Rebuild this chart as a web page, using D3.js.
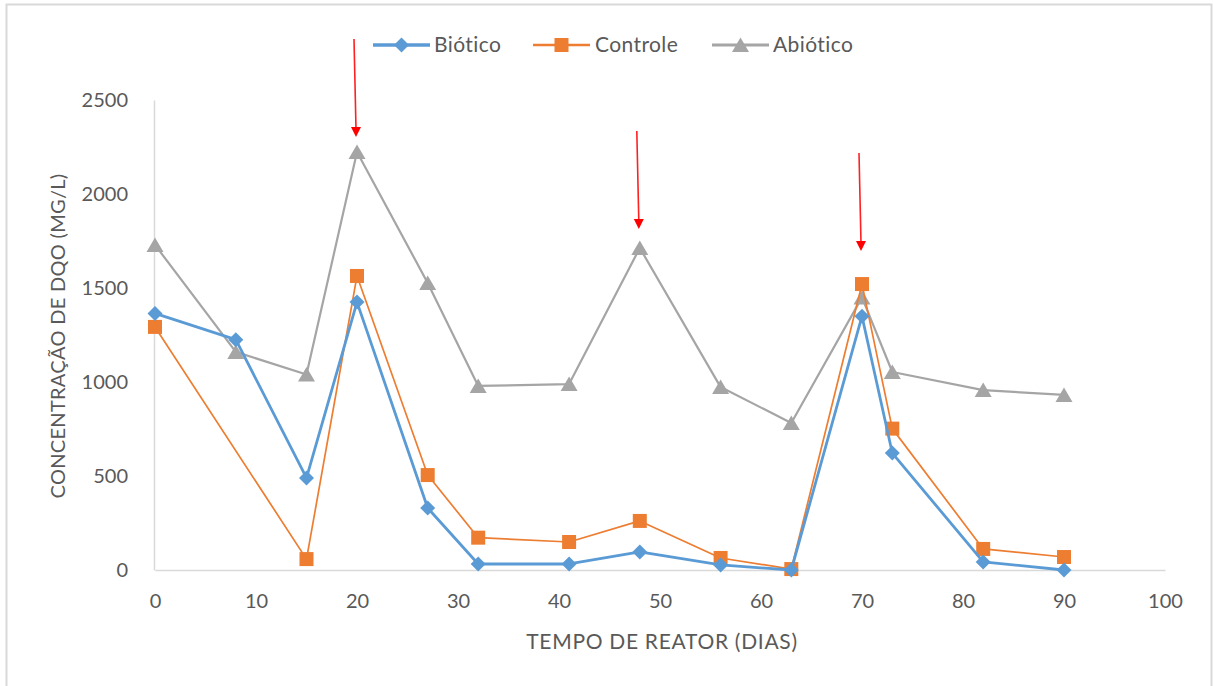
<!DOCTYPE html>
<html>
<head>
<meta charset="utf-8">
<script src="https://cdn.jsdelivr.net/npm/d3@7"></script>
<style>
  html, body { margin: 0; padding: 0; background: #ffffff; }
  svg { display: block; }
  text { font-family: Lato, "Open Sans", sans-serif; fill: #595959; }
</style>
</head>
<body>
<svg id="chart" width="1213" height="686"></svg>
<script>
// Reactor time (days) and COD concentration (mg/L) for each reactor
const biotDays = [0, 8, 15, 20, 27, 32, 41, 48, 56, 63, 70, 73, 82, 90];
const biotValues = [1365, 1225, 490, 1425, 330, 32, 32, 96, 27, 0, 1350, 622, 43, 0];

const ctrlDays = [0, 15, 20, 27, 32, 41, 48, 56, 63, 70, 73, 82, 90];
const ctrlValues = [1293, 58, 1564, 505, 172, 149, 261, 64, 5, 1521, 752, 112, 69];

const abioDays = [0, 8, 15, 20, 27, 32, 41, 48, 56, 63, 70, 73, 82, 90];
const abioValues = [1729, 1160, 1040, 2223, 1527, 979, 989, 1713, 973, 782, 1450, 1053, 957, 931];

const seriesNames = ["Biótico", "Controle", "Abiótico"];

// Feeding events marked with arrows (day, value at arrow tip)
const feedDays = [20, 48, 70];
const feedTipValues = [2303, 1814, 1697];

const xTicks = [0, 10, 20, 30, 40, 50, 60, 70, 80, 90, 100];
const yTicks = [0, 500, 1000, 1500, 2000, 2500];

const xTitle = "TEMPO DE REATOR (DIAS)";
const yTitle = "CONCENTRAÇÃO DE DQO (MG/L)";

const svg = d3.select("#chart");

// outer frame
svg.append("rect")
  .attr("x", 6.5).attr("y", 4.5)
  .attr("width", 1205).attr("height", 720)
  .attr("fill", "none").attr("stroke", "#d9d9d9").attr("stroke-width", 2);

const x = d3.scaleLinear().domain([0, 100]).range([155, 1165]);
const y = d3.scaleLinear().domain([0, 2500]).range([570, 100]);

// axes
const xAxis = svg.append("g")
  .attr("transform", `translate(0,${y(0)})`)
  .call(d3.axisBottom(x).tickValues(xTicks).tickSize(0).tickPadding(24).tickFormat(d3.format("d")));
xAxis.select(".domain").attr("stroke", "#d9d9d9").attr("stroke-width", 1.5);
xAxis.selectAll("text").style("font-size", "20px").attr("fill", "#595959");

const yAxis = svg.append("g")
  .attr("transform", `translate(${x(0) - 1},0)`)
  .call(d3.axisLeft(y).tickValues(yTicks).tickSize(0).tickPadding(26).tickFormat(d3.format("d")));
yAxis.select(".domain").attr("stroke", "#d9d9d9").attr("stroke-width", 1.5);
yAxis.selectAll("text").style("font-size", "20px").attr("fill", "#595959");

// axis titles
svg.append("text")
  .attr("x", 662).attr("y", 649)
  .attr("text-anchor", "middle")
  .style("font-size", "21px")
  .style("letter-spacing", "0.7px")
  .text(xTitle);

svg.append("text")
  .attr("transform", `translate(65,336) rotate(-90)`)
  .attr("text-anchor", "middle")
  .style("font-size", "20px")
  .style("letter-spacing", "0.3px")
  .text(yTitle);

// marker shapes
const diamondPath = "M0,-7.5L7.5,0L0,7.5L-7.5,0Z";
const squarePath = "M-7,-7H7V7H-7Z";
const trianglePath = "M0,-7.5L8.5,7L-8.5,7Z";

const series = [
  { name: seriesNames[0], days: biotDays, values: biotValues, color: "#5B9BD5", width: 2.8, marker: diamondPath },
  { name: seriesNames[1], days: ctrlDays, values: ctrlValues, color: "#ED7D31", width: 1.7, marker: squarePath },
  { name: seriesNames[2], days: abioDays, values: abioValues, color: "#A5A5A5", width: 2.2, marker: trianglePath }
];

const line = d3.line().x(d => x(d[0])).y(d => y(d[1]));

// draw gray first, then orange, then blue on top
const drawOrder = [2, 1, 0];
drawOrder.forEach(i => {
  const s = series[i];
  const pts = s.days.map((d, k) => [d, s.values[k]]);
  const g = svg.append("g");
  g.append("path")
    .attr("d", line(pts))
    .attr("fill", "none")
    .attr("stroke", s.color)
    .attr("stroke-width", s.width)
    .attr("stroke-linejoin", "round");
  g.selectAll("path.mk").data(pts).enter().append("path")
    .attr("class", "mk")
    .attr("d", s.marker)
    .attr("transform", d => `translate(${x(d[0])},${y(d[1])})`)
    .attr("fill", s.color);
});

// feeding arrows
const arrowLen = 98;
const arrows = svg.append("g");
feedDays.forEach((d, i) => {
  const tx = x(d) - 1;
  const ty = y(feedTipValues[i]);
  arrows.append("line")
    .attr("x1", tx - 2).attr("y1", ty - arrowLen)
    .attr("x2", tx).attr("y2", ty - 8)
    .attr("stroke", "#ff2020").attr("stroke-width", 1.6);
  arrows.append("path")
    .attr("d", `M${tx},${ty}L${tx - 5},${ty - 10}L${tx + 5},${ty - 10}Z`)
    .attr("fill", "#ff0000");
});

// legend
const legendItems = [
  { s: series[0], lx: 373, tx: 434 },
  { s: series[1], lx: 533, tx: 595 },
  { s: series[2], lx: 712, tx: 773 }
];
const legend = svg.append("g");
legendItems.forEach(it => {
  legend.append("line")
    .attr("x1", it.lx).attr("x2", it.lx + 57)
    .attr("y1", 45).attr("y2", 45)
    .attr("stroke", it.s.color).attr("stroke-width", it.s.width + 0.6);
  legend.append("path")
    .attr("d", it.s.marker)
    .attr("transform", `translate(${it.lx + 28.5},45)`)
    .attr("fill", it.s.color);
  legend.append("text")
    .attr("x", it.tx).attr("y", 52)
    .style("font-size", "21px")
    .style("letter-spacing", "0.4px")
    .text(it.s.name);
});
</script>
</body>
</html>
